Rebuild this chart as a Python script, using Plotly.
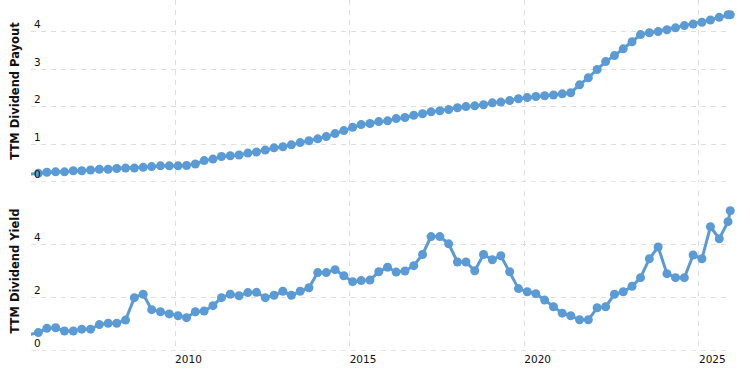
import pandas as pd
import plotly.graph_objects as go
from plotly.subplots import make_subplots

# quarterly observation dates (first one sits just left of the visible range)
quarter_dates = list(pd.date_range("2005-11-01", periods=81, freq="3MS").strftime("%Y-%m-%d"))
latest_date = "2025-11-24"
dates = quarter_dates + [latest_date]

payout = [
    0.21,
    0.23, 0.26, 0.27, 0.27, 0.30, 0.30, 0.32, 0.34, 0.34, 0.36, 0.37, 0.37, 0.39, 0.41, 0.43, 0.43,
    0.43, 0.44, 0.48, 0.57, 0.61, 0.68, 0.70, 0.72, 0.77,
    0.80, 0.85, 0.91, 0.94, 0.99, 1.05, 1.10, 1.15, 1.21, 1.29, 1.37, 1.46, 1.53, 1.56, 1.61, 1.63,
    1.69, 1.72, 1.78, 1.82, 1.87, 1.90, 1.93, 1.98, 2.01, 2.03, 2.06, 2.11,
    2.13, 2.17, 2.22, 2.25, 2.28, 2.30, 2.32, 2.35, 2.38, 2.59, 2.78, 3.00, 3.21, 3.37, 3.55, 3.74,
    3.93, 3.98, 4.01, 4.06, 4.11, 4.17, 4.21, 4.26, 4.32, 4.39, 4.46,
    4.46,
]

dividend_yield = [
    0.62,
    0.69, 0.85, 0.87, 0.75, 0.75, 0.82, 0.82, 0.99, 1.04, 1.04, 1.16, 2.00, 2.13, 1.55, 1.47, 1.39,
    1.32, 1.25, 1.47, 1.50, 1.70, 2.00, 2.13, 2.07, 2.19,
    2.20, 2.00, 2.09, 2.24, 2.09, 2.24, 2.37, 2.94, 2.94, 3.05, 2.82, 2.60, 2.64, 2.66, 2.97, 3.14,
    2.96, 3.00, 3.20, 3.62, 4.29, 4.29, 4.02, 3.34, 3.34, 3.01, 3.62, 3.42,
    3.57, 2.97, 2.34, 2.22, 2.15, 1.91, 1.66, 1.42, 1.32, 1.17, 1.17, 1.62, 1.66, 2.13, 2.22, 2.43,
    2.75, 3.46, 3.90, 2.90, 2.75, 2.75, 3.60, 3.46, 4.66, 4.21, 4.85,
    5.26,
]

payout_ticks = [0, 1, 2, 3, 4]
yield_ticks = [0, 2, 4, 6]
yield_ticktext = ["0", "2", "4", ""]

COLOR = "#5b9bd5"
GRID = "#dedede"
FONT = "DejaVu Sans"

fig = make_subplots(rows=2, cols=1, shared_xaxes=True)

for row, vals in ((1, payout), (2, dividend_yield)):
    fig.add_trace(
        go.Scatter(
            x=dates, y=vals, mode="lines+markers",
            line=dict(color=COLOR, width=3),
            marker=dict(color=COLOR, size=9),
            cliponaxis=False, hoverinfo="x+y", showlegend=False,
        ),
        row=row, col=1,
    )

xcommon = dict(
    type="date",
    range=["2005-11-16", "2025-12-02"],
    tick0="2010-01-01", dtick="M60",
    showgrid=True, gridcolor=GRID, griddash="5px,5px", gridwidth=1,
    zeroline=False, showline=False, ticks="", automargin=False,
)
fig.update_xaxes(**xcommon)
fig.update_xaxes(showticklabels=False, row=1, col=1)
fig.update_xaxes(
    showticklabels=True, ticklabelposition="outside right",
    tickformat="%Y", tickfont=dict(family=FONT, size=10.5, color="#111"),
    row=2, col=1,
)

ycommon = dict(
    showgrid=True, gridcolor=GRID, griddash="5px,5px", gridwidth=1,
    zeroline=False, showline=False, ticks="", automargin=False,
    ticklabelposition="inside top",
    tickfont=dict(family=FONT, size=10.5, color="#111"),
    title_font=dict(family=FONT, size=11.5, color="#111"),
    title_standoff=11,
)
fig.update_yaxes(**ycommon)
fig.update_yaxes(
    domain=[0.4815, 1.0], range=[0, 4.853], tickvals=payout_ticks,
    title_text="<b>TTM Dividend Payout</b>", row=1, col=1,
)
fig.update_yaxes(
    domain=[0.0, 0.4558], range=[0, 6.0], tickvals=yield_ticks, ticktext=yield_ticktext,
    title_text="<b>TTM Dividend Yield</b>", row=2, col=1,
)

# slightly darker dashed baselines at zero
for xref, yref in (("x domain", "y"), ("x2 domain", "y2")):
    fig.add_shape(
        type="line", xref=xref, yref=yref,
        x0=0, x1=1, y0=0, y1=0, layer="below",
        line=dict(color="#c8c8c8", width=1, dash="5px,5px"),
    )

fig.update_layout(
    width=750, height=376,
    margin=dict(l=31, r=19, t=0, b=25),
    paper_bgcolor="white", plot_bgcolor="white",
    font=dict(family=FONT),
)

fig.write_html(
    "out.html",
    config={"displayModeBar": False},
    post_script="document.body.style.margin='0';document.body.style.overflow='hidden';",
)
